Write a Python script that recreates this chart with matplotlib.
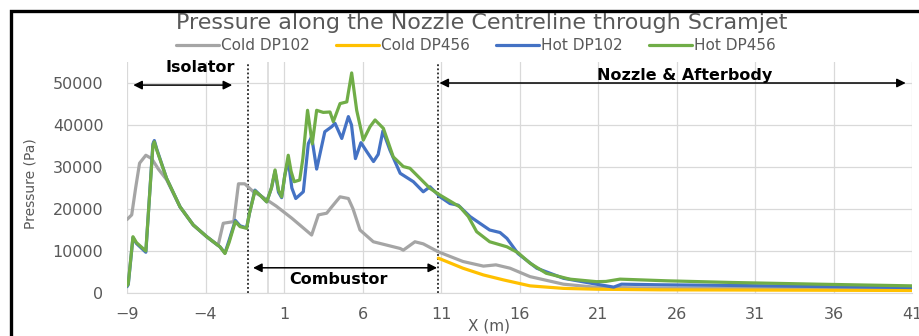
import matplotlib
matplotlib.use("Agg")
import matplotlib.pyplot as plt
from matplotlib.patches import Rectangle

# pressure along the centreline, x in metres, p in Pa
cold102_x = [-9.0, -8.7, -8.45, -8.2, -7.8, -7.43, -7.0, -6.48, -5.62, -4.78, -3.92,
             -3.3, -3.2, -2.87, -2.2, -1.9, -1.5, -0.95, -0.5, 0.5, 1.5, 2.76, 3.19,
             3.72, 4.04, 4.57, 5.1, 5.4, 5.84, 6.69, 8.4, 8.6, 9.34, 9.87, 10.83,
             12.4, 13.7, 14.5, 15.4, 16.67, 18.8, 20.9, 25.0, 41.0]
cold102_p = [17500, 18600, 25000, 30900, 32800, 32000, 29500, 27000, 20500, 16200, 13400,
             11600, 11300, 16600, 17000, 26000, 26000, 24100, 23200, 20700, 17800, 13800, 18600,
             19000, 20500, 22900, 22500, 20000, 15000, 12200, 10600, 10200, 12200, 11700, 9800,
             7500, 6400, 6700, 5900, 3900, 2100, 1350, 1150, 1000]

cold456_x = [10.83, 12.4, 13.7, 15.0, 16.67, 18.8, 20.9, 25.0, 41.0]
cold456_p = [8300, 5900, 4300, 3100, 1700, 1100, 900, 750, 600]

hot102_x = [-9.0, -8.92, -8.62, -8.4, -7.8, -7.35, -7.26, -7.1, -6.48, -5.62, -4.78, -3.92,
            -3.08, -2.76, -2.5, -2.1, -1.8, -1.38, -1.2, -0.85, -0.5, -0.1, 0.2, 0.43, 0.65,
            0.85, 1.05, 1.27, 1.5, 1.75, 2.23, 2.55, 2.76, 3.08, 3.6, 4.04, 4.25, 4.68, 5.1,
            5.3, 5.55, 5.9, 6.3, 6.7, 7.0, 7.3, 7.75, 8.4, 9.24, 9.87, 10.3, 10.94, 11.57,
            12.1, 12.85, 14.1, 14.76, 15.2, 15.9, 17.1, 18.8, 20.9, 22.0, 22.5, 25.0, 29.6,
            35.0, 41.0]
hot102_p = [1500, 2000, 13200, 11800, 9700, 35500, 36300, 34200, 27300, 20500, 16200, 13400,
            11000, 9500, 12500, 17300, 16000, 15500, 19000, 24500, 23200, 21700, 25000, 29000, 24000,
            22700, 28000, 31700, 25000, 22500, 24100, 35600, 37200, 29500, 38400, 39600, 40400, 36800, 42000,
            40000, 32000, 35800, 33500, 31300, 33000, 38600, 34000, 28500, 26500, 24100, 25300, 22900, 21300,
            20900, 18200, 15000, 14400, 13000, 9400, 5900, 3500, 2100, 1400, 2100, 1950, 1800,
            1550, 1300]

hot456_x = [-9.0, -8.92, -8.62, -8.4, -7.8, -7.35, -7.26, -7.1, -6.48, -5.62, -4.78, -3.92,
            -3.08, -2.76, -2.5, -2.1, -1.8, -1.38, -1.2, -0.85, -0.5, -0.1, 0.2, 0.43, 0.65,
            0.85, 1.05, 1.27, 1.45, 1.65, 2.0, 2.2, 2.5, 2.8, 3.08, 3.5, 3.93, 4.14, 4.57,
            5.0, 5.31, 5.63, 6.05, 6.48, 6.8, 7.33, 7.96, 8.6, 9.02, 9.66, 10.3, 10.94, 11.57,
            12.2, 12.74, 13.27, 14.1, 15.2, 15.9, 16.67, 17.7, 19.2, 20.9, 21.5, 22.4, 25.4,
            29.6, 35.0, 41.0]
hot456_p = [1700, 2200, 13400, 12000, 10000, 35000, 36000, 34000, 27300, 20500, 16200, 13400,
            11000, 9400, 12000, 17000, 15800, 15400, 19000, 24300, 23200, 21700, 25000, 29300, 24500,
            22900, 28000, 32800, 29000, 26500, 26900, 32000, 43500, 35500, 43500, 43000, 43100, 40800, 45100,
            45500, 52400, 43500, 36400, 39600, 41200, 39200, 32400, 30100, 29700, 27300, 24900, 23300, 21900,
            20500, 18200, 14600, 12200, 11000, 9600, 7100, 4700, 3300, 2700, 2750, 3300, 2900,
            2500, 2100, 1700]

series = [
    ("Cold DP102", cold102_x, cold102_p, "#A5A5A5"),
    ("Cold DP456", cold456_x, cold456_p, "#FFC000"),
    ("Hot DP102", hot102_x, hot102_p, "#4472C4"),
    ("Hot DP456", hot456_x, hot456_p, "#70AD47"),
]

# section boundaries (dotted) and labelled spans
isolator_end = -1.3
combustor_end = 10.8

TXT = "#595959"
GRID = "#D9D9D9"
plt.rcParams["font.family"] = ["DejaVu Sans"]

W, H = 919, 336
fig = plt.figure(figsize=(W / 100, H / 100), dpi=100)
ax = fig.add_axes([127 / W, 1 - 293 / H, (912 - 127) / W, (293 - 62) / H])

for name, xs, ps, c in series:
    ax.plot(xs, ps, color=c, lw=2.3, label=name, solid_joinstyle="round",
            solid_capstyle="round", zorder=3)

ax.set_xlim(-9, 41)
ax.set_ylim(0, 55000)
ax.set_xticks(range(-9, 42, 5))
ax.set_yticks(range(0, 50001, 10000))
ax.grid(True, color=GRID, lw=0.9)
ax.set_axisbelow(True)
for s in ["top", "right", "left"]:
    ax.spines[s].set_visible(False)
ax.spines["bottom"].set_color(GRID)
ax.tick_params(length=0, colors=TXT, labelsize=11.5)
ax.tick_params(axis="x", pad=10)
ax.tick_params(axis="y", pad=17)

# vertical axis line sits at x = 0
ax.axvline(0, color=GRID, lw=1.2, zorder=1)

for xv in (isolator_end, combustor_end):
    ax.axvline(xv, color="black", lw=1.1, ls=(0, (1.2, 1.5)), zorder=2)

arrow = dict(arrowstyle="<|-|>", color="black", lw=1.1, mutation_scale=13,
             shrinkA=0, shrinkB=0)
lab = dict(ha="center", va="center", fontsize=11.5, weight="bold", color="black")
ax.annotate("", xy=(-2.3, 49500), xytext=(-8.6, 49500), arrowprops=arrow, zorder=4)
ax.text(-4.35, 53800, "Isolator", **lab)
ax.annotate("", xy=(40.6, 50000), xytext=(10.9, 50000), arrowprops=arrow, zorder=4)
ax.text(26.5, 51900, "Nozzle & Afterbody", **lab)
ax.annotate("", xy=(10.75, 6000), xytext=(-0.97, 6000), arrowprops=arrow, zorder=4)
ax.text(4.44, 3100, "Combustor", **lab)

fig.text(482 / W, 1 - 23 / H, "Pressure along the Nozzle Centreline through Scramjet",
         ha="center", va="center", fontsize=16, color=TXT)
fig.text(30 / W, 1 - 184 / H, "Pressure (Pa)", rotation=90, ha="center", va="center",
         fontsize=10, color=TXT, family=["Liberation Sans Narrow", "DejaVu Sans"])
fig.text(489 / W, 1 - 326 / H, "X (m)", ha="center", va="center", fontsize=11,
         color=TXT)

fig.legend(loc="center", bbox_to_anchor=(476 / W, 1 - 46 / H), ncol=4, frameon=False,
           fontsize=11, handlelength=2.8, handletextpad=0.15, columnspacing=1.7,
           labelcolor=TXT)

# chart frame, its right and bottom edges fall outside the canvas
fig.patches.append(Rectangle((10.5 / W, -0.2), 1.2, 1.2 - 11 / H, transform=fig.transFigure,
                             fill=False, edgecolor="black", lw=2.4))

fig.savefig("out.png", dpi=100, facecolor="white")
